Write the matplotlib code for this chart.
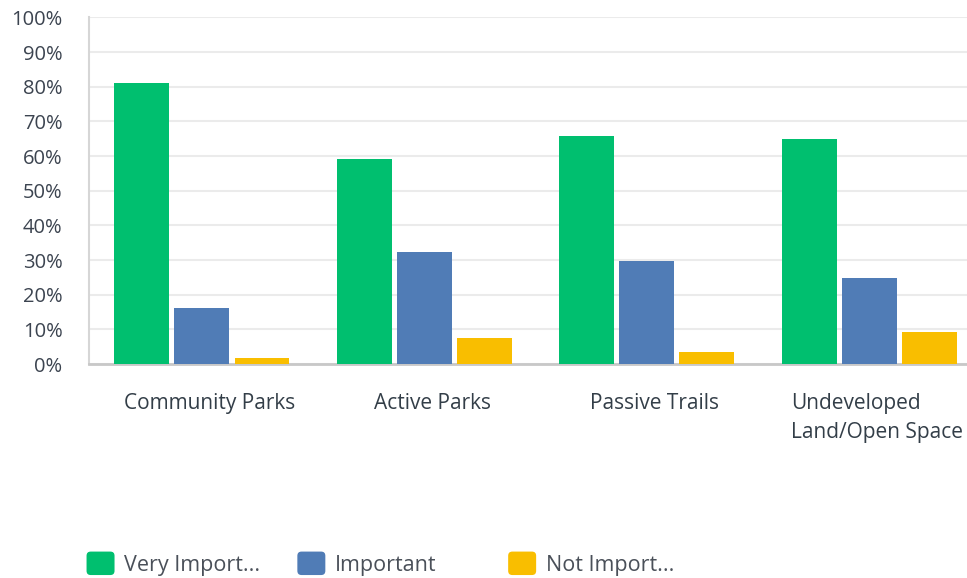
import matplotlib.pyplot as plt
import numpy as np
from matplotlib.patches import Patch, FancyBboxPatch
from matplotlib.legend_handler import HandlerPatch

plt.rcParams['font.family'] = ['Open Sans', 'DejaVu Sans']

categories = ['Community Parks', 'Active Parks', 'Passive Trails', 'Undeveloped\nLand/Open Space']
series = ['Very Import...', 'Important', 'Not Import...']
very_important = [81.0, 59.1, 65.8, 64.9]
important = [16.1, 32.3, 29.7, 24.8]
not_important = [1.7, 7.5, 3.5, 9.2]
colors = ['#00bf6f', '#507cb6', '#f9be00']


class RoundBox(HandlerPatch):
    def create_artists(self, legend, orig_handle, xdescent, ydescent, width, height, fontsize, trans):
        p = FancyBboxPatch((-xdescent, -ydescent), width, height,
                           boxstyle='round,pad=0,rounding_size=3',
                           facecolor=orig_handle.get_facecolor(), edgecolor='none', transform=trans)
        return [p]


fig = plt.figure(figsize=(9.67, 5.78), dpi=100)
ax = fig.add_axes([0.092, 0.370, 0.908, 0.600])

x = np.arange(len(categories))
w = 0.247
off = 0.27
for i, (vals, c) in enumerate(zip([very_important, important, not_important], colors)):
    ax.bar(x + (i - 1) * off, vals, width=w, color=c, zorder=3)

ax.set_ylim(0, 100)
ax.set_xlim(-0.508, 3.44)
ax.set_yticks(range(0, 101, 10))
ax.set_yticklabels([f'{v}%' for v in range(0, 101, 10)])
ax.yaxis.grid(True, color='#ebebeb', linewidth=1.5, zorder=0)
ax.set_axisbelow(True)
# labels sit slightly right of the group centres
ax.set_xticks(x + 0.035)
ax.set_xticklabels(categories, multialignment='left', linespacing=1.5)

ax.tick_params(axis='y', length=0, pad=19, labelsize=14.5, labelcolor='#3c4450')
ax.tick_params(axis='x', length=0, pad=21, labelsize=15, labelcolor='#333e48')
for s in ['top', 'right']:
    ax.spines[s].set_visible(False)
ax.spines['left'].set_color('#d6d6d6')
ax.spines['left'].set_linewidth(1.5)
ax.spines['bottom'].set_color('#c8c8c8')
ax.spines['bottom'].set_linewidth(2)

# one legend per entry so the columns sit at fixed spacing
anchors = [0.0895, 0.3075, 0.5255]
for s, c, a in zip(series, colors, anchors):
    fig.legend(handles=[Patch(facecolor=c, label=s)], handler_map={Patch: RoundBox()},
               loc='center left', bbox_to_anchor=(a, 0.025), borderpad=0, borderaxespad=0,
               frameon=False, fontsize=15.5, handlelength=1.3, handleheight=1.3,
               handletextpad=0.45, labelcolor='#4a5059')

fig.savefig('out.png', dpi=100)
